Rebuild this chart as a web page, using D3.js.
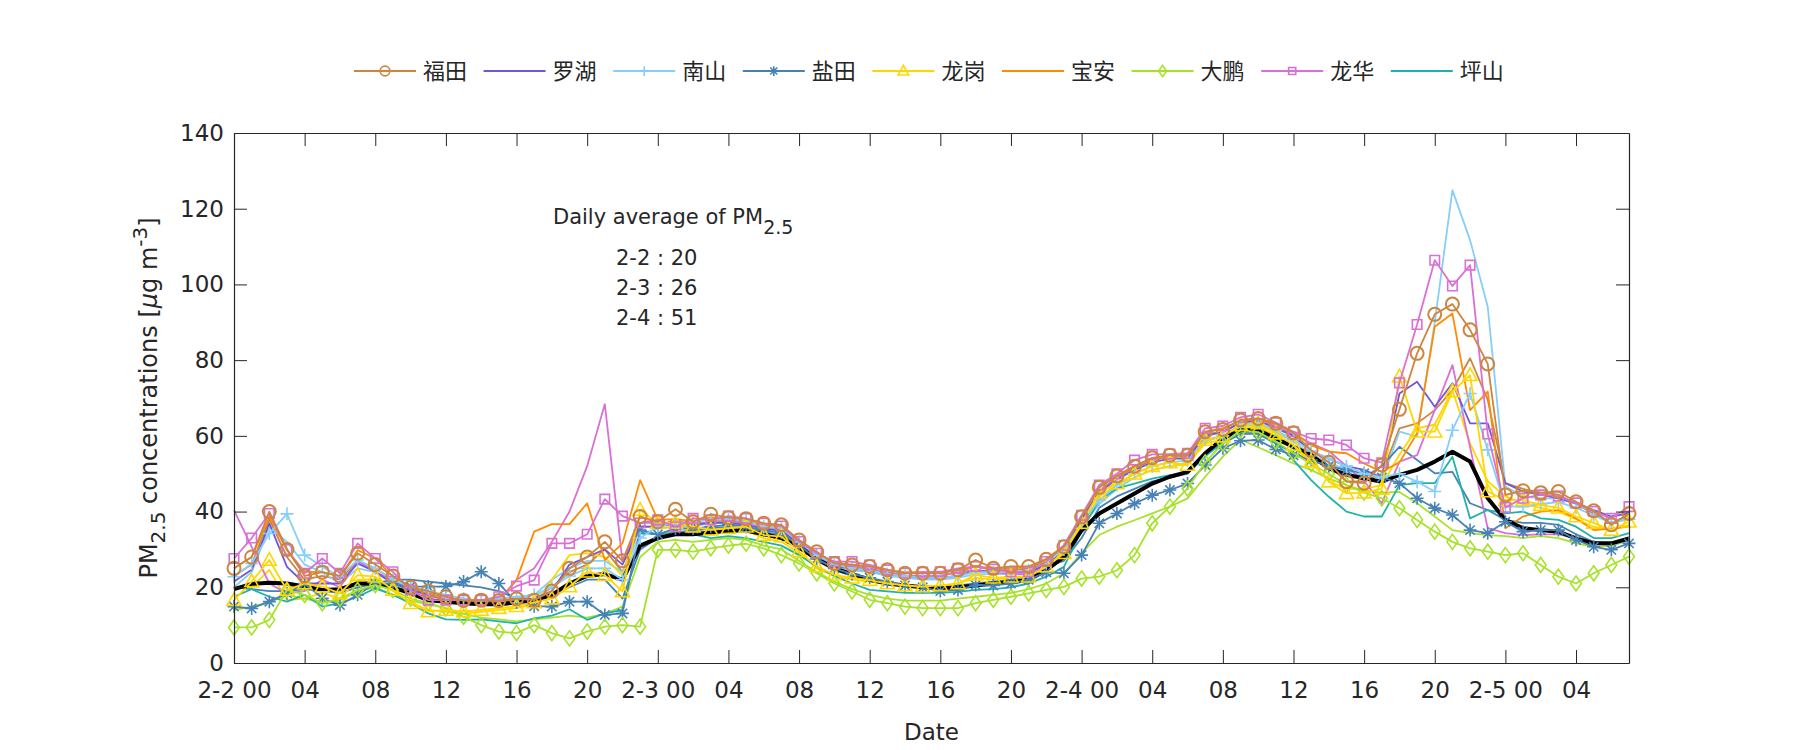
<!DOCTYPE html>
<html>
<head>
<meta charset="utf-8">
<script src="https://cdn.jsdelivr.net/npm/d3@7"></script>
<style>
html,body{margin:0;padding:0;background:#fff;}
svg{display:block;}
text{font-family:"DejaVu Sans","Noto Sans CJK SC",sans-serif;fill:#262626;}
</style>
</head>
<body>
<svg id="chart" width="1800" height="750"></svg>
<script>
// ---------- data (hourly, 2-2 00 .. 2-5 07) ----------
const hours = d3.range(0, 80);
const xTickHours = [0,4,8,12,16,20,24,28,32,36,40,44,48,52,56,60,64,68,72,76];
const xTickLabels = ["2-2 00","04","08","12","16","20","2-3 00","04","08","12","16","20","2-4 00","04","08","12","16","20","2-5 00","04"];
const yTicks = [0,20,40,60,80,100,120,140];
const districts = ["福田","罗湖","南山","盐田","龙岗","宝安","大鹏","龙华","坪山"];
const dailyLabels = ["2-2 : 20","2-3 : 26","2-4 : 51"];

const futian = [25,28,40,30,23,24,23,29,26,23,20,19,17.5,16.5,
  16.6,16.5,17,16.6,19,25,28,32,27,38.7,37.3,40.6,37.3,
  39.3,38.4,38.1,36.9,36.5,32.5,29.4,26.3,25.9,25.5,24.6,23.7,23.7,23.7,24.6,27.2,25,25.5,25.5,27.4,
  30.7,38.6,46.4,49.4,52,54.2,54.9,54.9,61.1,61.7,64.2,64.6,63.3,60.8,56.2,
  53,47.9,47.5,52.3,67,81.8,92.1,94.8,88,79,44.4,45.5,45,45.3,42.6,40.2,36.5,39.5];
const futian2 = [23,26,38,28,22,23,22,27,25,22,19.5,18.5,17,16,
  16,16,16.5,17,20,24,26,30,24,36,36,38,36,
  37.5,37.5,37,36,35.5,31.5,28.5,26,25,24.5,24,23,23,23,24,25.5,24.5,24.5,25,27,
  30,38,45.5,49,51.5,53.5,54.5,54.5,60.5,61,63.5,64,62.5,60,55.5,
  52,48,48,50,62,63.3,66.8,72.1,80.5,69.5,47.5,46,45,44.5,42,39.5,37,39];
const luohu = [21.5,24.6,36.9,25.4,21,21,21,26.3,24.1,21,19.3,18,16.6,16,
  16,16.5,17,17,19,26,28,30,26,36,36,37,36.5,
  37,37,36.5,35.5,35,31.5,28,25.5,25,24.5,23.5,23,22.5,22.5,23,24.5,24,24,24,26,
  30,38,45,48.5,51,53,54,54,60,61,63.5,64,62,60,56,
  54,52,51,49,71.2,74.3,67.7,73.9,63.3,63.3,47.5,45.3,44.5,43.5,42.2,40.4,38.7,39.5];
const nanshan = [22.8,26.3,34.2,39.4,28.5,25.4,22.8,27.2,25,22,20,19,18,17,
  16.5,17,17.5,18,20,23,25,25,22,33,36,37,37,
  38,38,37.5,36,35.5,32,28.5,26,25,24.5,23.5,23,22.5,22.5,23,24,24,24,24.5,26.5,
  30,37,43,47,50,52,53,53.5,59,60,63,63.5,61.5,59,56,
  54,52,50,49,50,47.9,45.3,61.5,71.2,56.3,41.3,41.3,42,42.5,41,39,37,38];
const nanshan2 = [20,24,36,32,26,24,21,25,24,21,19,18,17,16.5,
  16,16.5,17,18,22,25,27,27,24,34,35.5,36,36,
  37,37,36.5,35.5,35,31.5,28,25.5,24.5,24,23,22.5,22,22,22.5,23.5,23.5,23.5,24,26,
  29,36,42,46,49,51,52,53,58.5,60,62.5,63,61,58.5,55,
  53,51,49,48,61.1,59.8,90,124.9,111.7,94.1,46.6,44,43.5,43.5,42,40,37,38];
const yantian = [14.9,14.4,16.2,18.4,21,17.1,15.3,18,21,21,20.2,20.2,20.2,21.5,
  24.1,21,16,15,14.9,16.2,16.2,12.7,13.1,35.1,34,35.5,35.5,
  36,36.5,36,35,34.5,31,27.5,25,23.5,22.5,21.5,20.5,20,19,19.3,20.6,20.5,21,22,24,
  23.7,28.5,36.9,39.5,42.1,44.3,45.7,47.4,52.3,56.7,58.7,58.9,56.4,54.9,53.6,
  52,51,50.1,49,47.5,43.5,40.9,39.1,35.1,34.3,37.3,34.7,35.1,35.1,32.5,30.7,29.9,31.6];
const yantian2 = [20,19.5,19,19,19.5,19,18.5,20,21,22,22,21.5,21,20.5,
  20,19,17,16.5,18,20,22,22,17,30,33,34.5,35,
  35.5,36,35.5,34.5,34,30.5,27,24.5,23,22,21,20.5,20,20,20.5,21,21.5,22,23,25.5,
  27,33,41,44,46,48,49,50,55,58,60.5,60.5,58,55.5,53.5,
  52,50,49,52,57.1,53.6,50.1,50.5,42.2,40.4,37.8,37,37,36.5,34,32,31,32.5];
const longgang = [16.6,21.5,27.2,19.3,21,20.2,18.4,23.2,22.8,19.3,15.8,13.6,14,13.6,
  14,14.5,15,16,17,20.2,24.1,23.2,18.9,40.4,37,37,36,
  35.2,35.6,36,33.8,33.4,29.5,25.5,23.3,22.5,21.9,21,20.5,20.2,20.5,21,23.3,22.5,22.8,22.8,25.5,
  29,37,45,47.4,50,52,53,52.3,58.9,59.8,62.8,63.3,60.6,57.6,53.2,
  47.9,44.8,45,46,75.6,61.1,61.1,71.7,76,45.3,43,43,41.7,41,38.7,37,35.1,37.3];
const longgang2 = [20.2,20,24.6,16.6,17,18.5,17,22,22,19,16,14,13.5,13,
  13.5,14,14.5,15.5,22,28.5,29,28,23,39,36,36.5,35,
  34,34.5,35,33,32,29,25,23,22,21.5,21,20.5,20,20,21,22.5,22,22.5,23,25,
  28.5,36,44,47,49,51,52,52.5,58,59,62,62.5,60,57,53,
  48,46,46,47,55,62,63,72,58,48,44,42,41,40,38,36,35,36.5];
const baoan = [25,28,38.6,29.8,24.1,24,22.8,29.8,27.6,22.8,20.2,18.4,16.6,16.2,
  16.6,16.6,21.9,34.7,36.7,36.7,42.2,27.2,31.6,48.3,37.8,38,37.5,
  38.5,38,37.5,36.5,36,32.5,29,26.5,26,25.5,24.5,24,24,24,24.5,25.5,25,25,25.5,27.5,
  31,39,46.5,49.5,52,54,54.5,55,61,62,64,64.5,63,61,57.5,
  55.8,55.4,52.7,50.5,53,60.7,88.8,92.3,66.8,71.7,35.6,38.7,40,40.4,38.2,35.1,35.5,36];
const dapeng = [9.4,9.4,11.4,19.3,18,15.8,17,19.3,20.6,19.3,17,15.8,14.4,12.2,
  10,8.3,7.9,10,7.9,6.5,8.3,9.6,10,9.6,29.9,29.9,29.4,
  30.3,31,31.5,30.3,28.5,26.3,23.7,21,18.9,16.7,15.8,14.9,14.5,14.5,14.5,15.8,16.7,17.5,18.4,19.3,
  20.1,22.3,22.8,24.5,28.5,36.9,41.3,46.1,53,58,61.5,61,58.5,55.5,52.5,
  50,47,45,43.5,40.9,37.8,34.7,32,30.3,29.4,28.5,29,25.9,22.8,21,23.7,25.9,28.1];
const dapeng2 = [14,14.9,16,18,17,16,16.5,19,20,18,16.5,15.5,14.5,13,
  12,11.5,11,11.5,12,12.5,12,13,14.9,28,32,32.5,32,
  32.5,33,32.5,31,30,27,24,21.5,19.5,18,17,16.5,16.5,16.5,17,17.5,18,18.5,19.5,21,
  23.7,29,33.8,36,37.7,39.5,41.3,43.5,49.2,54.5,59,57,54.9,52.7,51,
  48.7,47,45.5,45,45.2,42.2,38.7,35.1,34.3,33.8,33.5,33,33.5,33,31.6,30.7,31,32.5];
const longhua = [27.6,33,39.5,30,23.7,27.6,23.7,31.6,27.6,24.1,19.3,16.6,16.6,16.6,
  16.6,17.5,20.3,21.9,31.6,31.6,34,43.3,38.8,37,37.8,36,38.2,
  37.8,38.8,38.2,36.9,36.2,32.1,29,26.8,26.8,25.9,24.6,23.7,24,24.1,25,25.5,24.8,24.1,24.1,26.8,
  31.1,39,47,50,53.6,55.1,55.2,55.4,62,62.6,64.9,65.7,63.5,61.1,59.3,
  58.9,57.6,54.1,52.9,74,89.4,106.4,99.6,105.1,60.5,41.1,43.5,44.4,44.1,42.3,40,38.2,41.3];
const longhua2 = [40.4,30.7,21,18.4,19,22,20,27,24,22,19,17,16,16,
  16,16.5,22,25,32,40,52,68.4,26.8,37,37,36,37,
  37,37.5,37,36,35,31,28,26,25.5,25,24,23,23,23,24,24.5,24,23.5,23.5,26,
  30,38,45,49,52,54,54.5,55,61,62,64,64.5,62.5,60.5,58,
  56,52,48,42.2,53.2,54.9,66.8,78.7,57,35.6,34.3,33.8,34,34,33,32,31.5,33];
const pingshan = [17.5,19.5,17.5,16.2,18,14.9,15.8,17.5,19.7,18,15.8,13.1,11.5,11.4,
  11.5,11,10.5,11.8,12.5,14.2,11.4,13.1,14,34.3,34,34.5,34,
  33,33.5,33,32,31,28.5,25.5,23,21,19.3,18.9,18.5,18.5,18.5,18.8,19.3,19.5,20,21,22.8,
  25.4,35,43,46.1,47.4,48.7,49.6,50,54.5,58.4,61.1,61.1,58,53.6,48.3,
  43.9,40,38.7,38.7,47,47.5,47.5,54.5,38.2,40.4,39.5,40,38.2,37.8,36,33,33,34.3];
const average = [19.5,20.9,21.2,21,20.2,19.3,19.5,21,21,20,18.4,16.6,16.2,15.8,
  15.5,15.5,16,16.5,18,21,23,23.5,22,31,33,34,34,
  34.5,35,35,34,33,30.5,27.5,25,23.5,22,21,20.5,20,19.7,20,20.5,21,21.3,22,24.5,
  28,35,39.5,42.1,44.8,47.4,49.2,50.5,55.4,59.3,61.5,61.5,59.3,57.1,54.9,
  51.4,49.7,48.8,47.9,49.7,51,53.2,55.8,53.2,43.5,37.8,35.6,35.1,34.7,32.9,31.6,31.6,32.9];

// ---------- styles ----------
const colors = {"福田":"#cd853f","罗湖":"#7356d8","南山":"#87cefa","盐田":"#4682b4","龙岗":"#ffd700",
  "宝安":"#ff8c00","大鹏":"#a6e22a","龙华":"#da70d6","坪山":"#20b2aa"};
const markers = {"福田":"circle","罗湖":null,"南山":"plus","盐田":"asterisk","龙岗":"triangle",
  "宝安":null,"大鹏":"diamond","龙华":"square","坪山":null};

const plainLines = [
  ["福田",futian2],["南山",nanshan2],["盐田",yantian2],["龙岗",longgang2],["大鹏",dapeng2],["龙华",longhua2],
  ["罗湖",luohu],["宝安",baoan],["坪山",pingshan]
];
const markedLines = [
  ["盐田",yantian],["大鹏",dapeng],["南山",nanshan],["龙岗",longgang],["龙华",longhua],["福田",futian]
];

const svg = d3.select("#chart");
const L=234, R=1629, T=133, B=663;
const x = d3.scaleLinear().domain([0,79]).range([L,R]);
const y = d3.scaleLinear().domain([0,140]).range([B,T]);

const line = d3.line().x((d,i)=>x(hours[i])).y(d=>y(d));

const plot = svg.append("g");
plainLines.forEach(([k,vals])=>{
  plot.append("path").datum(vals).attr("d",line).attr("fill","none")
    .attr("stroke",colors[k]).attr("stroke-width",1.8).attr("stroke-linejoin","round");
});
plot.append("path").datum(average).attr("d",line).attr("fill","none")
  .attr("stroke","#000").attr("stroke-width",4).attr("stroke-linejoin","round");

function markerPath(type, s){
  const h=s/2;
  switch(type){
    case "circle": return d3.symbol(d3.symbolCircle, Math.PI*h*h)();
    case "square": return `M${-h},${-h}H${h}V${h}H${-h}Z`;
    case "triangle": return `M0,${-h*1.05}L${h},${h*0.75}L${-h},${h*0.75}Z`;
    case "diamond": return `M0,${-h*1.25}L${h*0.9},0L0,${h*1.25}L${-h*0.9},0Z`;
    case "plus": return `M${-h},0H${h}M0,${-h}V${h}`;
    case "asterisk": { const d=h*0.72; return `M${-h},0H${h}M0,${-h}V${h}M${-d},${-d}L${d},${d}M${-d},${d}L${d},${-d}`; }
  }
  return "";
}
const mSize = {circle:13,square:9.5,triangle:14,diamond:12,plus:13,asterisk:13};

markedLines.forEach(([k,vals])=>{
  const g = plot.append("g");
  g.append("path").datum(vals).attr("d",line).attr("fill","none")
    .attr("stroke",colors[k]).attr("stroke-width",1.8).attr("stroke-linejoin","round");
  const m = markers[k];
  g.selectAll("path.mk").data(vals).join("path").attr("class","mk")
    .attr("transform",(d,i)=>`translate(${x(hours[i])},${y(d)})`)
    .attr("d",markerPath(m,mSize[m]))
    .attr("fill","none").attr("stroke",colors[k]).attr("stroke-width",m==="circle"?2:1.6);
});

// ---------- axes ----------
const axG = svg.append("g");
const xAxis = d3.axisBottom(x).tickValues(xTickHours).tickFormat((d,i)=>xTickLabels[i])
  .tickSize(-13).tickSizeOuter(0).tickPadding(19);
axG.append("g").attr("transform",`translate(0,${B})`).call(xAxis);
axG.append("g").attr("transform",`translate(0,${T})`)
  .call(d3.axisTop(x).tickValues(xTickHours).tickFormat("").tickSize(-13).tickSizeOuter(0));
axG.append("g").attr("transform",`translate(${L},0)`)
  .call(d3.axisLeft(y).tickValues(yTicks).tickSize(-13).tickSizeOuter(0).tickPadding(10));
axG.append("g").attr("transform",`translate(${R},0)`)
  .call(d3.axisRight(y).tickValues(yTicks).tickFormat("").tickSize(-13).tickSizeOuter(0));
axG.selectAll("path.domain").attr("stroke","#262626").attr("stroke-width",1.2);
axG.selectAll(".tick line").attr("stroke","#262626").attr("stroke-width",1);
axG.selectAll(".tick text").attr("fill","#262626").attr("font-family","DejaVu Sans, sans-serif").attr("font-size",23);

// axis titles
svg.append("text").attr("x",(L+R)/2).attr("y",740).attr("text-anchor","middle")
  .attr("font-size",23).text("Date");
const yl = svg.append("text").attr("transform",`translate(157,${(T+B)/2}) rotate(-90)`)
  .attr("text-anchor","middle").attr("font-size",24);
yl.append("tspan").text("PM");
yl.append("tspan").attr("font-size",20).attr("dy",8).text("2.5");
yl.append("tspan").attr("dy",-8).text(" concentrations [");
yl.append("tspan").attr("font-style","italic").text("μ");
yl.append("tspan").text("g m");
yl.append("tspan").attr("font-size",20).attr("dy",-10).text("-3");
yl.append("tspan").attr("dy",10).text("]");

// annotation
const ann = svg.append("text").attr("x",553).attr("y",224).attr("font-size",21);
ann.append("tspan").text("Daily average of PM");
ann.append("tspan").attr("font-size",19).attr("dy",10).text("2.5");
dailyLabels.forEach((t,i)=>{
  svg.append("text").attr("x",616).attr("y",265+i*30).attr("font-size",21).text(t);
});

// legend
const lg = svg.append("g");
districts.forEach((k,i)=>{
  const x0 = 354 + i*129.6, yy = 71;
  const g = lg.append("g");
  g.append("line").attr("x1",x0).attr("x2",x0+62).attr("y1",yy).attr("y2",yy)
    .attr("stroke",colors[k]).attr("stroke-width",2);
  const m = markers[k];
  if(m){
    g.append("path").attr("transform",`translate(${x0+31},${yy})`).attr("d",markerPath(m,mSize[m]*0.75))
      .attr("fill","none").attr("stroke",colors[k]).attr("stroke-width",1.6);
  }
  g.append("text").attr("x",x0+69).attr("y",yy).attr("dy","0.36em")
    .attr("font-family","Noto Sans CJK SC, sans-serif").attr("font-size",22).text(k);
});
</script>
</body>
</html>
